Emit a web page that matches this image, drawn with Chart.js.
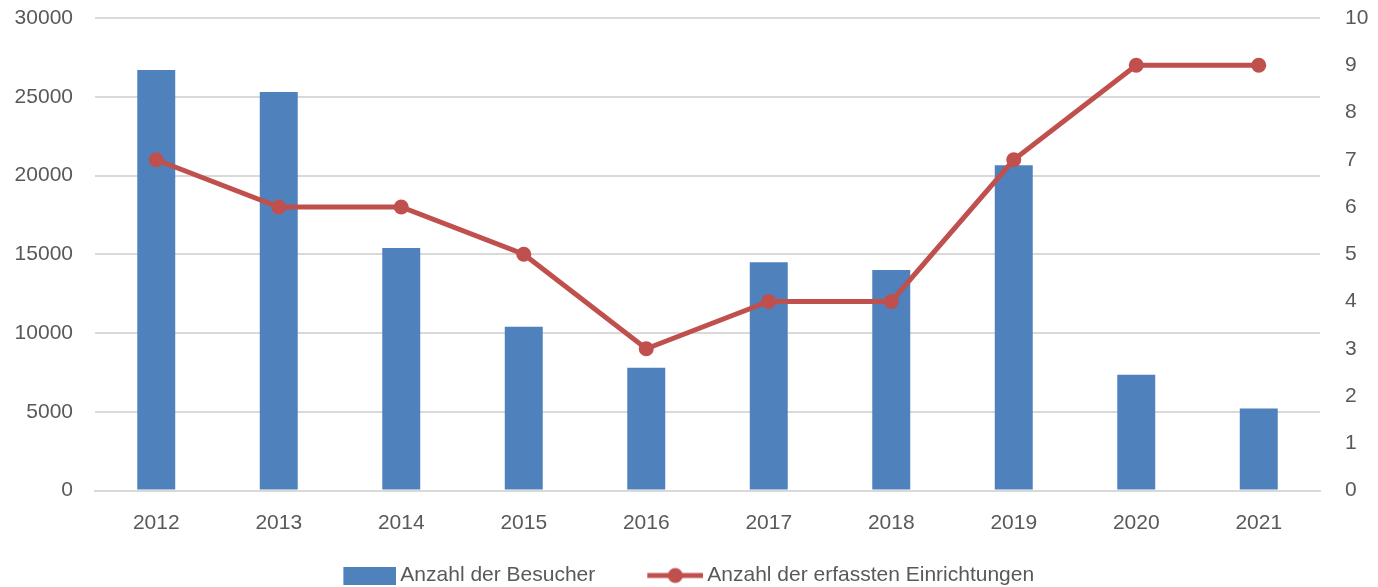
<!DOCTYPE html>
<html>
<head>
<meta charset="utf-8">
<script src="https://cdn.jsdelivr.net/npm/chart.js@4.4.1/dist/chart.umd.min.js"></script>
<style>
  html, body { margin: 0; padding: 0; background: #fff; }
  #wrap { width: 1378px; height: 587px; }
</style>
</head>
<body>
<div id="wrap"><canvas id="myChart"></canvas></div>
<script>
const years = ['2012', '2013', '2014', '2015', '2016', '2017', '2018', '2019', '2020', '2021'];
const besucher = [26700, 25300, 15400, 10400, 7800, 14500, 14000, 20650, 7350, 5200];
const einrichtungen = [7, 6, 6, 5, 3, 4, 4, 7, 9, 9];

const blue = '#4F81BD';
const red = '#C0504D';
const grey = '#595959';
const gridCol = '#D9D9D9';
const fontFam = 'Liberation Sans, Arial, sans-serif';

// legend symbols on small canvases, content pushed to the right side
function barSymbol() {
    const c = document.createElement('canvas');
    c.width = 103; c.height = 18;
    const g = c.getContext('2d');
    g.fillStyle = blue;
    g.fillRect(50, 0, 53, 18);
    return c;
}
function lineSymbol() {
    const c = document.createElement('canvas');
    c.width = 103; c.height = 18;
    const g = c.getContext('2d');
    g.strokeStyle = red;
    g.lineWidth = 5;
    g.beginPath();
    g.moveTo(47, 9);
    g.lineTo(103, 9);
    g.stroke();
    g.fillStyle = red;
    g.beginPath();
    g.arc(75, 9, 7.5, 0, Math.PI * 2);
    g.fill();
    return c;
}

// move the legend a bit lower / sideways after layout
const legendShift = {
    id: 'legendShift',
    afterLayout(chart) {
        const lg = chart.legend;
        lg.top += 9; lg.bottom += 9;
        lg.left -= 22; lg.right -= 22;
    }
};

const ctx = document.getElementById('myChart').getContext('2d');
const myChart = new Chart(ctx, {
    type: 'bar',
    data: {
        labels: years,
        datasets: [{
            type: 'line',
            label: 'Anzahl der erfassten Einrichtungen',
            data: einrichtungen,
            yAxisID: 'y1',
            borderColor: red,
            backgroundColor: red,
            borderWidth: 5,
            pointRadius: 7.5,
            pointBackgroundColor: red,
            pointBorderWidth: 0,
            tension: 0,
            order: 1
        }, {
            label: 'Anzahl der Besucher',
            data: besucher,
            yAxisID: 'y',
            backgroundColor: blue,
            barPercentage: 0.31,
            categoryPercentage: 1,
            order: 2
        }]
    },
    plugins: [legendShift],
    options: {
        responsive: true,
        maintainAspectRatio: false,
        animation: false,
        layout: { padding: { top: 18, bottom: 0, left: 0, right: 0 } },
        plugins: {
            tooltip: { enabled: false },
            legend: {
                position: 'bottom',
                labels: {
                    color: grey,
                    font: { family: fontFam, size: 21 },
                    usePointStyle: true,
                    pointStyleWidth: 90,
                    padding: 11.5,
                    generateLabels: function(chart) {
                        return [
                            { text: 'Anzahl der Besucher', pointStyle: barSymbol(), fillStyle: blue, strokeStyle: blue, lineWidth: 0, datasetIndex: 1, fontColor: grey },
                            { text: 'Anzahl der erfassten Einrichtungen', pointStyle: lineSymbol(), fillStyle: red, strokeStyle: red, lineWidth: 0, datasetIndex: 0, fontColor: grey }
                        ];
                    }
                }
            }
        },
        scales: {
            x: {
                grid: { display: false, drawTicks: false },
                border: { display: true, color: gridCol, width: 2 },
                ticks: {
                    color: grey,
                    font: { family: fontFam, size: 21 },
                    padding: 20,
                    maxRotation: 0
                },
                afterFit: function(scale) { scale.height = 54; }
            },
            y: {
                position: 'left',
                min: 0,
                max: 30000,
                ticks: {
                    stepSize: 5000,
                    color: grey,
                    padding: 22,
                    font: { family: fontFam, size: 21 },
                    callback: function(v) { return String(v); }
                },
                grid: { color: gridCol, lineWidth: 2, drawTicks: false },
                border: { display: false },
                afterFit: function(scale) {
                    scale.width = 95;
                    scale.paddingTop = 0;
                    scale.paddingBottom = 0;
                }
            },
            y1: {
                position: 'right',
                min: 0,
                max: 10,
                ticks: {
                    stepSize: 1,
                    color: grey,
                    padding: 25,
                    font: { family: fontFam, size: 21 }
                },
                grid: { display: false, drawTicks: false },
                border: { display: false },
                afterFit: function(scale) {
                    scale.width = 58;
                    scale.paddingTop = 0;
                    scale.paddingBottom = 0;
                }
            }
        }
    }
});
</script>
</body>
</html>
